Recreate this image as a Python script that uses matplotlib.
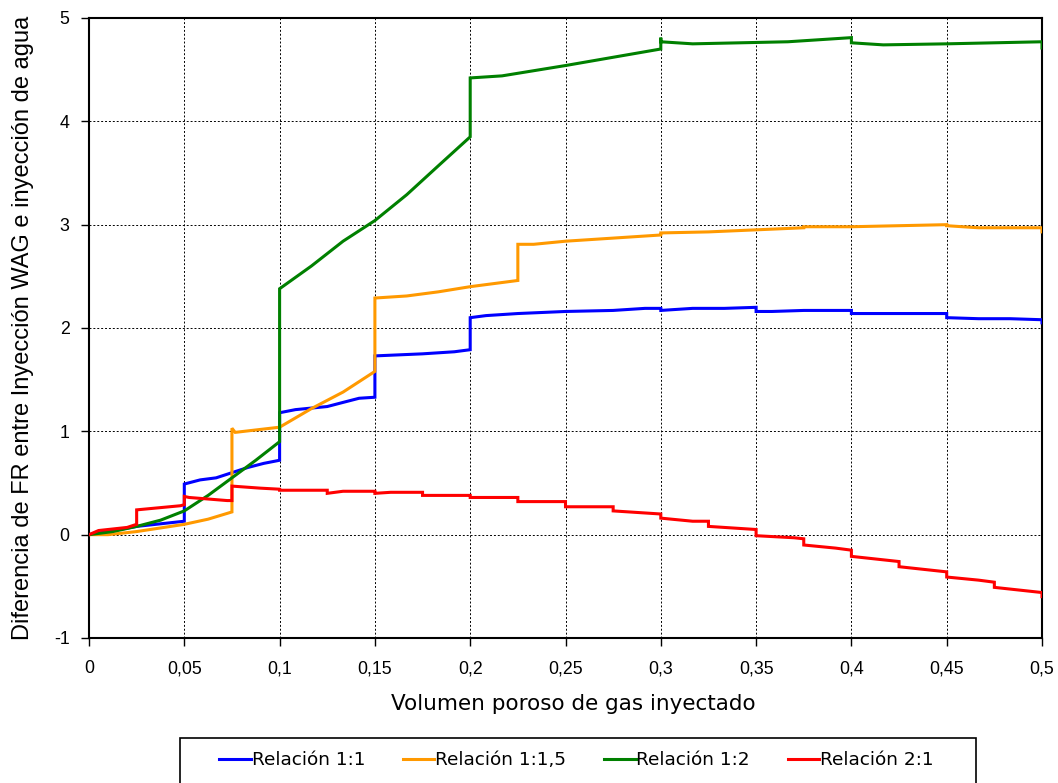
import numpy as np
import matplotlib
matplotlib.use("Agg")
import matplotlib.pyplot as plt
from matplotlib.patches import Rectangle

# Volumen poroso de gas inyectado vs diferencia de FR (WAG - agua)
x_11 = [0, 0.01, 0.025, 0.05, 0.05, 0.0583, 0.0667, 0.075, 0.0833, 0.0917, 0.1, 0.1,
        0.1083, 0.125, 0.1333, 0.1417, 0.15, 0.15, 0.175, 0.1917, 0.2, 0.2, 0.2083,
        0.225, 0.25, 0.275, 0.2917, 0.3, 0.3, 0.3167, 0.3333, 0.35, 0.35, 0.3583,
        0.375, 0.4, 0.4, 0.425, 0.45, 0.45, 0.4667, 0.4833, 0.5, 0.5]
y_11 = [0, 0.03, 0.08, 0.13, 0.49, 0.53, 0.55, 0.6, 0.65, 0.69, 0.72, 1.18,
        1.21, 1.24, 1.28, 1.32, 1.33, 1.73, 1.75, 1.77, 1.79, 2.10, 2.12,
        2.14, 2.16, 2.17, 2.19, 2.19, 2.17, 2.19, 2.19, 2.20, 2.16, 2.16,
        2.17, 2.17, 2.14, 2.14, 2.14, 2.10, 2.09, 2.09, 2.08, 2.05]

x_115 = [0, 0.01, 0.025, 0.05, 0.0625, 0.075, 0.075, 0.0767, 0.1, 0.1167, 0.1333,
         0.15, 0.15, 0.1667, 0.1833, 0.2, 0.225, 0.225, 0.2333, 0.25, 0.2667, 0.3,
         0.3, 0.325, 0.35, 0.375, 0.375, 0.4, 0.425, 0.45, 0.45, 0.4667, 0.5, 0.5]
y_115 = [0, 0.0, 0.03, 0.10, 0.15, 0.22, 1.03, 0.99, 1.04, 1.22, 1.38,
         1.58, 2.29, 2.31, 2.35, 2.40, 2.46, 2.81, 2.81, 2.84, 2.86, 2.90,
         2.92, 2.93, 2.95, 2.97, 2.98, 2.98, 2.99, 3.00, 2.99, 2.97, 2.97, 2.93]

x_12 = [0, 0.0125, 0.025, 0.0375, 0.05, 0.0625, 0.075, 0.0875, 0.1, 0.1, 0.1167,
        0.1333, 0.15, 0.1667, 0.1833, 0.2, 0.2, 0.2167, 0.25, 0.3, 0.3, 0.3,
        0.3167, 0.3667, 0.4, 0.4, 0.4167, 0.45, 0.5, 0.5]
y_12 = [0, 0.03, 0.08, 0.14, 0.23, 0.38, 0.55, 0.72, 0.90, 2.38, 2.60,
        2.84, 3.04, 3.29, 3.57, 3.85, 4.42, 4.44, 4.54, 4.70, 4.81, 4.77,
        4.75, 4.77, 4.81, 4.76, 4.74, 4.75, 4.77, 4.71]

x_21 = [0, 0.005, 0.02, 0.025, 0.025, 0.048, 0.05, 0.05, 0.0525, 0.0725, 0.075,
        0.075, 0.09, 0.1, 0.1, 0.1167, 0.125, 0.125, 0.1333, 0.15, 0.15, 0.1583,
        0.175, 0.175, 0.1917, 0.2, 0.2, 0.225, 0.225, 0.25, 0.25, 0.275, 0.275,
        0.3, 0.3, 0.3167, 0.325, 0.325, 0.35, 0.35, 0.37, 0.375, 0.375, 0.3917,
        0.4, 0.4, 0.415, 0.425, 0.425, 0.45, 0.45, 0.4667, 0.475, 0.475, 0.5, 0.5]
y_21 = [0, 0.04, 0.07, 0.10, 0.24, 0.28, 0.29, 0.37, 0.36, 0.33, 0.33,
        0.47, 0.45, 0.44, 0.43, 0.43, 0.43, 0.40, 0.42, 0.42, 0.40, 0.41,
        0.41, 0.38, 0.38, 0.38, 0.36, 0.36, 0.32, 0.32, 0.27, 0.27, 0.23,
        0.20, 0.16, 0.13, 0.13, 0.08, 0.05, -0.01, -0.03, -0.04, -0.10, -0.13,
        -0.15, -0.21, -0.24, -0.26, -0.31, -0.36, -0.41, -0.44, -0.46, -0.51, -0.56, -0.60]

series_labels = ["Relación 1:1", "Relación 1:1,5", "Relación 1:2", "Relación 2:1"]
series_colors = ["#0000FF", "#FF9900", "#008000", "#FF0000"]

x_ticks = [0, 0.05, 0.1, 0.15, 0.2, 0.25, 0.3, 0.35, 0.4, 0.45, 0.5]
x_ticklabels = ["0", "0,05", "0,1", "0,15", "0,2", "0,25", "0,3", "0,35", "0,4", "0,45", "0,5"]
y_ticks = [-1, 0, 1, 2, 3, 4, 5]
y_ticklabels = ["-1", "0", "1", "2", "3", "4", "5"]

W, H = 1058, 783
fig = plt.figure(figsize=(W / 100, H / 100), dpi=100)
ax = fig.add_axes([89 / W, 1 - 638 / H, (1042 - 89) / W, (638 - 18) / H])

data = [(x_11, y_11), (x_115, y_115), (x_12, y_12), (x_21, y_21)]
handles = []
for (xs, ys), lab, col in zip(data, series_labels, series_colors):
    h, = ax.plot(xs, ys, color=col, lw=2.2, label=lab, solid_joinstyle="miter", zorder=3)
    handles.append(h)

ax.set_xlim(0, 0.5)
ax.set_ylim(-1, 5)
ax.set_xticks(x_ticks)
ax.set_xticklabels(x_ticklabels)
ax.set_yticks(y_ticks)
ax.set_yticklabels(y_ticklabels)
ax.grid(True, color="black", linestyle=(0, (2, 2)), linewidth=0.7, zorder=1)
ax.set_axisbelow(True)

for lbl in ax.get_xticklabels() + ax.get_yticklabels():
    lbl.set_family("Liberation Sans")
    lbl.set_fontsize(12.8)
ax.tick_params(direction="out", length=6, width=1, colors="black")
ax.tick_params(axis="y", pad=8)
ax.tick_params(axis="x", pad=10)

for side in ["left", "bottom", "top", "right"]:
    ax.spines[side].set_linewidth(1.5)
    ax.spines[side].set_color("black")

ax.set_xlabel("Volumen poroso de gas inyectado", fontsize=15.5, family="DejaVu Sans")
ax.xaxis.set_label_coords(0.508, -0.09, transform=ax.transAxes)
ax.set_ylabel("Diferencia de FR entre Inyección WAG e inyección de agua",
              fontsize=17, family="Liberation Sans", labelpad=14)

# legend box below the axes
fig.patches.append(Rectangle((180 / W, -0.05), (976 - 180) / W, 0.05 + 1 - 738 / H,
                             transform=fig.transFigure, fill=False, edgecolor="black",
                             linewidth=1.2))
fig.legend(handles=handles, loc="center left", bbox_to_anchor=(210 / W, 1 - 760 / H),
           ncol=4, frameon=False, prop={"family": "DejaVu Sans", "size": 13.3},
           handlelength=1.7, handletextpad=0.05, columnspacing=2.05, borderpad=0)

fig.savefig("out.png", dpi=100)
